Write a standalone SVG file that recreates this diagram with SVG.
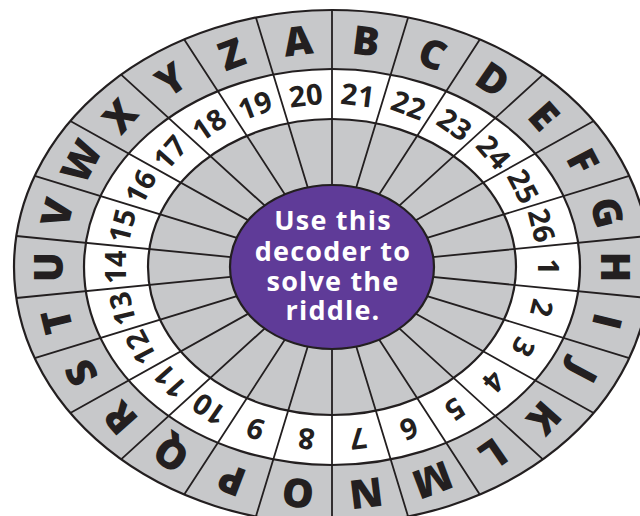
<svg xmlns="http://www.w3.org/2000/svg" width="640" height="516" viewBox="0 0 640 516">
<style>
.ring{stroke:#231f20;stroke-width:2.2}
.gray{fill:#c7c8ca}
.white{fill:#ffffff}
.div{stroke:#231f20;stroke-width:1.8;fill:none}
.let{font-family:"Open Sans","Liberation Sans",sans-serif;font-weight:800;font-size:40px;fill:#231f20;text-anchor:middle}
.num{font-family:"Open Sans","Liberation Sans",sans-serif;font-weight:700;font-size:29px;fill:#231f20;text-anchor:middle;letter-spacing:0.5px}
.ctr{font-family:"Open Sans","Liberation Sans",sans-serif;font-weight:700;font-size:27px;fill:#ffffff;text-anchor:middle;letter-spacing:1.2px}
</style>
<rect width="640" height="516" fill="#ffffff"/>
<g id="rings">
<ellipse class="ring gray" cx="332" cy="267" rx="318" ry="257"/>
<ellipse class="ring white" cx="332" cy="267" rx="248" ry="198"/>
<ellipse class="ring gray" cx="332" cy="267" rx="184" ry="148"/>
</g>
<g id="connectors">
<path class="div" d="M332 10L332 524M408.1 17.5L255.9 516.5M479.8 39.4L184.2 494.6M542.9 74.6L121.1 459.4M593.7 121L70.3 413M629.3 175.9L34.7 358.1M647.7 236L16.3 298M647.7 298L16.3 236M629.3 358.1L34.7 175.9M593.7 413L70.3 121M542.9 459.4L121.1 74.6M479.8 494.6L184.2 39.4M408.1 516.5L255.9 17.5"/>
</g>
<g id="center">
<ellipse cx="332" cy="267" rx="102" ry="82" fill="#5f3b98" stroke="#231f20" stroke-width="2.2"/>
<text class="ctr" x="333" y="230">Use this</text>
<text class="ctr" x="333" y="261">decoder to</text>
<text class="ctr" x="333" y="291">solve the</text>
<text class="ctr" x="333" y="320">riddle.</text>
</g>
<g id="letters">
<text class="let" transform="translate(297.9,41.2) rotate(-6.92)" y="14">A</text>
<text class="let" transform="translate(366.1,41.2) rotate(6.92)" y="14">B</text>
<text class="let" transform="translate(432.4,54.3) rotate(20.77)" y="14">C</text>
<text class="let" transform="translate(492.8,79.8) rotate(34.62)" y="14">D</text>
<text class="let" transform="translate(543.8,116.1) rotate(48.46)" y="14">E</text>
<text class="let" transform="translate(582.6,161.3) rotate(62.31)" y="14">F</text>
<text class="let" transform="translate(606.8,212.6) rotate(76.15)" y="14">G</text>
<text class="let" transform="translate(615,267) rotate(90)" y="14">H</text>
<text class="let" transform="translate(606.8,321.4) rotate(103.85)" y="14">I</text>
<text class="let" transform="translate(582.6,372.7) rotate(117.69)" y="14">J</text>
<text class="let" transform="translate(543.8,417.9) rotate(131.54)" y="14">K</text>
<text class="let" transform="translate(492.8,454.2) rotate(145.38)" y="14">L</text>
<text class="let" transform="translate(432.4,479.7) rotate(159.23)" y="14">M</text>
<text class="let" transform="translate(366.1,492.8) rotate(173.08)" y="14">N</text>
<text class="let" transform="translate(297.9,492.8) rotate(186.92)" y="14">O</text>
<text class="let" transform="translate(231.7,479.7) rotate(200.77)" y="14">P</text>
<text class="let" transform="translate(171.2,454.2) rotate(214.62)" y="14">Q</text>
<text class="let" transform="translate(120.2,417.9) rotate(228.46)" y="14">R</text>
<text class="let" transform="translate(81.4,372.7) rotate(242.31)" y="14">S</text>
<text class="let" transform="translate(57.2,321.4) rotate(256.15)" y="14">T</text>
<text class="let" transform="translate(49,267) rotate(270)" y="14">U</text>
<text class="let" transform="translate(57.2,212.6) rotate(283.85)" y="14">V</text>
<text class="let" transform="translate(81.4,161.3) rotate(297.69)" y="14">W</text>
<text class="let" transform="translate(120.2,116.1) rotate(311.54)" y="14">X</text>
<text class="let" transform="translate(171.2,79.8) rotate(325.38)" y="14">Y</text>
<text class="let" transform="translate(231.7,54.3) rotate(339.23)" y="14">Z</text>
</g>
<g id="numbers">
<text class="num" transform="translate(306,95.3) rotate(-6.92)" y="10.4">20</text>
<text class="num" transform="translate(358,95.3) rotate(6.92)" y="10.4">21</text>
<text class="num" transform="translate(408.6,105.2) rotate(20.77)" y="10.4">22</text>
<text class="num" transform="translate(454.7,124.6) rotate(34.62)" y="10.4">23</text>
<text class="num" transform="translate(493.7,152.3) rotate(48.46)" y="10.4">24</text>
<text class="num" transform="translate(523.3,186.6) rotate(62.31)" y="10.4">25</text>
<text class="num" transform="translate(541.7,225.6) rotate(76.15)" y="10.4">26</text>
<text class="num" transform="translate(548,267) rotate(90)" y="10.4">1</text>
<text class="num" transform="translate(541.7,308.4) rotate(103.85)" y="10.4">2</text>
<text class="num" transform="translate(523.3,347.4) rotate(117.69)" y="10.4">3</text>
<text class="num" transform="translate(493.7,381.7) rotate(131.54)" y="10.4">4</text>
<text class="num" transform="translate(454.7,409.4) rotate(145.38)" y="10.4">5</text>
<text class="num" transform="translate(408.6,428.8) rotate(159.23)" y="10.4">6</text>
<text class="num" transform="translate(358,438.7) rotate(173.08)" y="10.4">7</text>
<text class="num" transform="translate(306,438.7) rotate(186.92)" y="10.4">8</text>
<text class="num" transform="translate(255.4,428.8) rotate(200.77)" y="10.4">9</text>
<text class="num" transform="translate(209.3,409.4) rotate(214.62)" y="10.4">10</text>
<text class="num" transform="translate(170.3,381.7) rotate(228.46)" y="10.4">11</text>
<text class="num" transform="translate(140.7,347.4) rotate(242.31)" y="10.4">12</text>
<text class="num" transform="translate(122.3,308.4) rotate(256.15)" y="10.4">13</text>
<text class="num" transform="translate(116,267) rotate(270)" y="10.4">14</text>
<text class="num" transform="translate(122.3,225.6) rotate(283.85)" y="10.4">15</text>
<text class="num" transform="translate(140.7,186.6) rotate(297.69)" y="10.4">16</text>
<text class="num" transform="translate(170.3,152.3) rotate(311.54)" y="10.4">17</text>
<text class="num" transform="translate(209.3,124.6) rotate(325.38)" y="10.4">18</text>
<text class="num" transform="translate(255.4,105.2) rotate(339.23)" y="10.4">19</text>
</g>
</svg>
